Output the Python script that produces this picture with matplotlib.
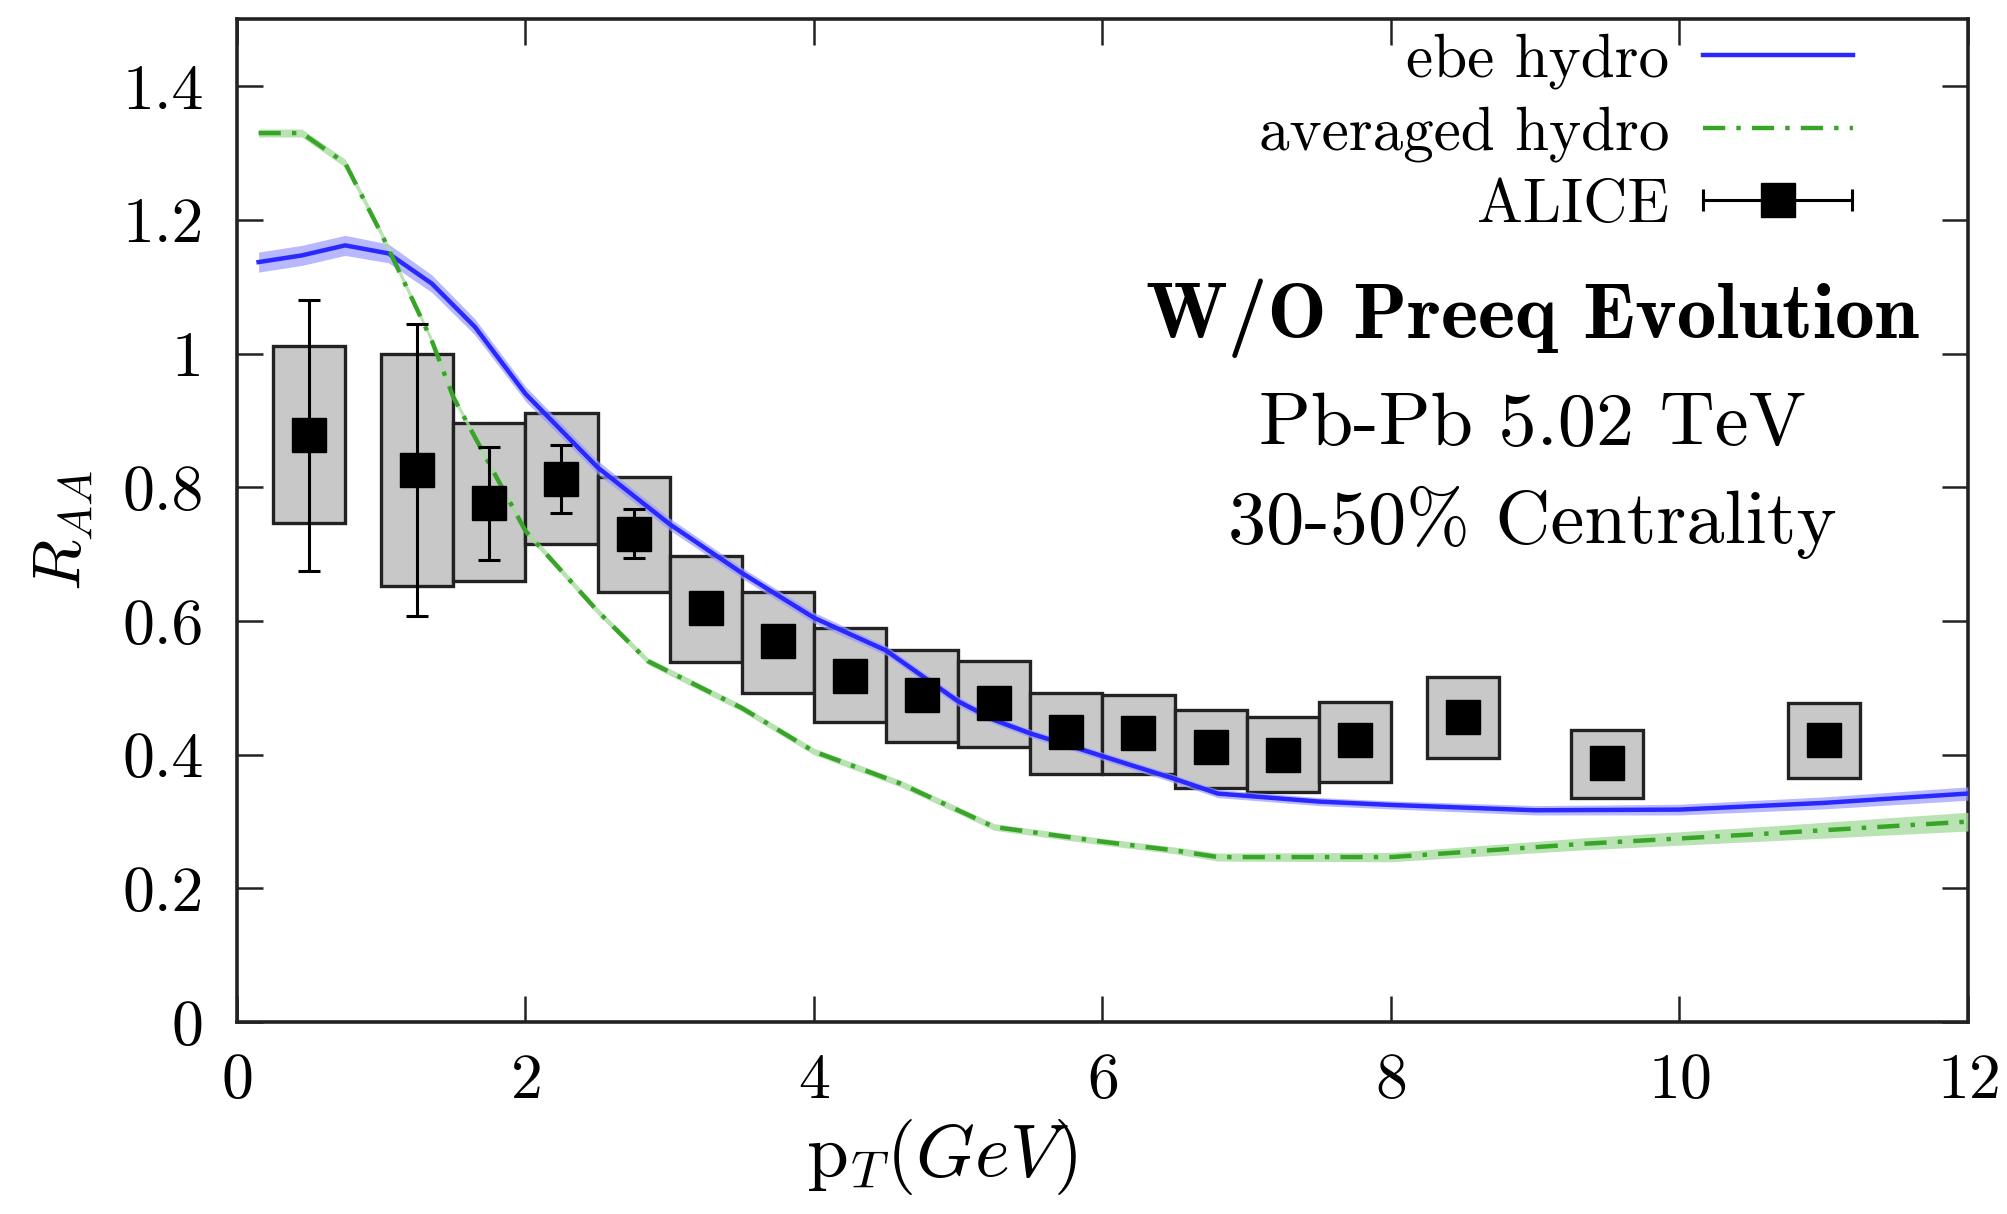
import numpy as np
import matplotlib
matplotlib.use("Agg")
from matplotlib import pyplot as plt
from matplotlib.legend_handler import HandlerErrorbar

plt.rcParams['font.family'] = 'cmr10'
plt.rcParams['mathtext.fontset'] = 'cm'
plt.rcParams['axes.formatter.use_mathtext'] = True

# ALICE data
alice_pt = [0.5, 1.25, 1.75, 2.25, 2.75, 3.25, 3.75, 4.25, 4.75, 5.25,
            5.75, 6.25, 6.75, 7.25, 7.75, 8.5, 9.5, 11.0]
alice_raa = [0.878, 0.826, 0.776, 0.813, 0.731, 0.619, 0.570, 0.518, 0.489, 0.477,
             0.434, 0.432, 0.411, 0.399, 0.422, 0.456, 0.387, 0.422]
alice_stat = [0.203, 0.219, 0.084, 0.051, 0.037, 0.02, 0.02, 0.02, 0.02, 0.02,
              0.015, 0.015, 0.015, 0.015, 0.015, 0.015, 0.015, 0.015]
alice_sys_lo = [0.746, 0.652, 0.660, 0.716, 0.643, 0.539, 0.493, 0.449, 0.419, 0.411,
                0.372, 0.372, 0.350, 0.344, 0.359, 0.395, 0.335, 0.366]
alice_sys_hi = [1.011, 1.000, 0.896, 0.912, 0.815, 0.698, 0.643, 0.589, 0.556, 0.541,
                0.492, 0.489, 0.467, 0.456, 0.479, 0.517, 0.437, 0.477]

# ebe hydro
ebe_pt = [0.15, 0.45, 0.75, 1.05, 1.35, 1.65, 2.0, 2.5, 3.0, 3.5, 4.0, 4.5, 5.0, 5.25,
          5.5, 6.0, 6.5, 6.8, 7.5, 8.0, 9.0, 10.0, 11.0, 12.0]
ebe_raa = [1.137, 1.147, 1.162, 1.150, 1.105, 1.040, 0.940, 0.830, 0.745, 0.672, 0.605,
           0.556, 0.480, 0.452, 0.432, 0.398, 0.364, 0.342, 0.330, 0.325, 0.317, 0.318,
           0.328, 0.342]
ebe_err = [0.015, 0.015, 0.015, 0.014, 0.013, 0.012, 0.011, 0.010, 0.009, 0.008, 0.008,
           0.007, 0.007, 0.006, 0.006, 0.006, 0.006, 0.006, 0.006, 0.006, 0.007, 0.008,
           0.009, 0.010]

# averaged hydro
avg_pt = [0.15, 0.45, 0.75, 1.0, 1.35, 1.5, 2.0, 2.5, 2.85, 3.5, 4.0, 4.6, 5.25, 6.0,
          6.5, 6.8, 8.0, 9.35, 10.6, 12.0]
avg_raa = [1.330, 1.330, 1.285, 1.180, 1.020, 0.935, 0.735, 0.615, 0.540, 0.470, 0.405,
           0.357, 0.292, 0.270, 0.257, 0.247, 0.247, 0.267, 0.282, 0.300]
avg_err = [0.006, 0.006, 0.006, 0.006, 0.005, 0.005, 0.005, 0.005, 0.005, 0.005, 0.005,
           0.005, 0.005, 0.005, 0.005, 0.006, 0.007, 0.009, 0.011, 0.014]

blue = '#2828ff'
green = '#38a428'

fig = plt.figure(figsize=(20.08, 12.14), dpi=100)
ax = fig.add_axes([0.118, 0.158, 0.862, 0.826])

ebe_lo = np.array(ebe_raa) - np.array(ebe_err)
ebe_hi = np.array(ebe_raa) + np.array(ebe_err)
avg_lo = np.array(avg_raa) - np.array(avg_err)
avg_hi = np.array(avg_raa) + np.array(avg_err)

# systematic boxes
ax.bar(alice_pt, np.array(alice_sys_hi) - np.array(alice_sys_lo), width=0.5,
       bottom=alice_sys_lo, color='#c8c8c8', edgecolor='#222222', linewidth=2.4, zorder=2)

ax.fill_between(ebe_pt, ebe_lo, ebe_hi, color='#9a9aff', alpha=0.7, lw=0, zorder=3)
ax.plot(ebe_pt, ebe_raa, '-', color=blue, lw=3.2, label='ebe hydro', zorder=4)
ax.fill_between(avg_pt, avg_lo, avg_hi, color='#a8dca0', alpha=0.8, lw=0, zorder=3)
ax.plot(avg_pt, avg_raa, color=green, lw=3.2, linestyle=(0, (5, 2.5, 1, 2.5)),
        label='averaged hydro', zorder=4)

ax.errorbar(alice_pt, alice_raa, yerr=alice_stat, fmt='s', color='black', ms=25,
            elinewidth=2.2, capsize=8, capthick=2.2, zorder=5)
# legend proxy (horizontal bar like the gnuplot key)
leg_eb = ax.errorbar([np.nan], [np.nan], xerr=[1.0], fmt='s', color='black', ms=25,
                     elinewidth=2.2, capsize=8, capthick=2.2, label='ALICE')

ax.set_xlim(0, 12)
ax.set_ylim(0, 1.5)
ax.set_xticks([0, 2, 4, 6, 8, 10, 12])
ax.set_yticks([0, 0.2, 0.4, 0.6, 0.8, 1, 1.2, 1.4])
ax.set_yticklabels(['0', '0.2', '0.4', '0.6', '0.8', '1', '1.2', '1.4'])
ax.tick_params(direction='in', length=19, width=1.8, top=True, right=True,
               labelsize=46, color='#222222')
ax.tick_params(axis='y', pad=24)
ax.tick_params(axis='x', pad=22)
for s in ax.spines.values():
    s.set_linewidth(2.6)
    s.set_color('#222222')

ax.set_xlabel(r'$\mathrm{p}_T(GeV)$', fontsize=54)
ax.xaxis.set_label_coords(0.407, -0.095)
ax.set_ylabel(r'$R_{AA}$', fontsize=48)
ax.yaxis.set_label_coords(-0.082, 0.49)

ax.text(8.98, 1.053, 'W/O Preeq Evolution', fontfamily='cmb10', fontsize=57,
        ha='center', va='center')
ax.text(8.98, 0.891, 'Pb-Pb 5.02 TeV', fontsize=55, ha='center', va='center')
ax.text(8.98, 0.748, '30-50% Centrality', fontsize=55, ha='center', va='center')

handles, labels = ax.get_legend_handles_labels()
order = [labels.index('ebe hydro'), labels.index('averaged hydro'), labels.index('ALICE')]
ax.legend([handles[i] for i in order], [labels[i] for i in order],
          loc='upper right', bbox_to_anchor=(0.9335, 0.986), frameon=False,
          fontsize=44, markerfirst=False, handlelength=2.45, handletextpad=0.55,
          labelspacing=0.27, borderpad=0, borderaxespad=0,
          handler_map={type(leg_eb): HandlerErrorbar(xerr_size=1.22)})

fig.savefig('out.png', dpi=100)
